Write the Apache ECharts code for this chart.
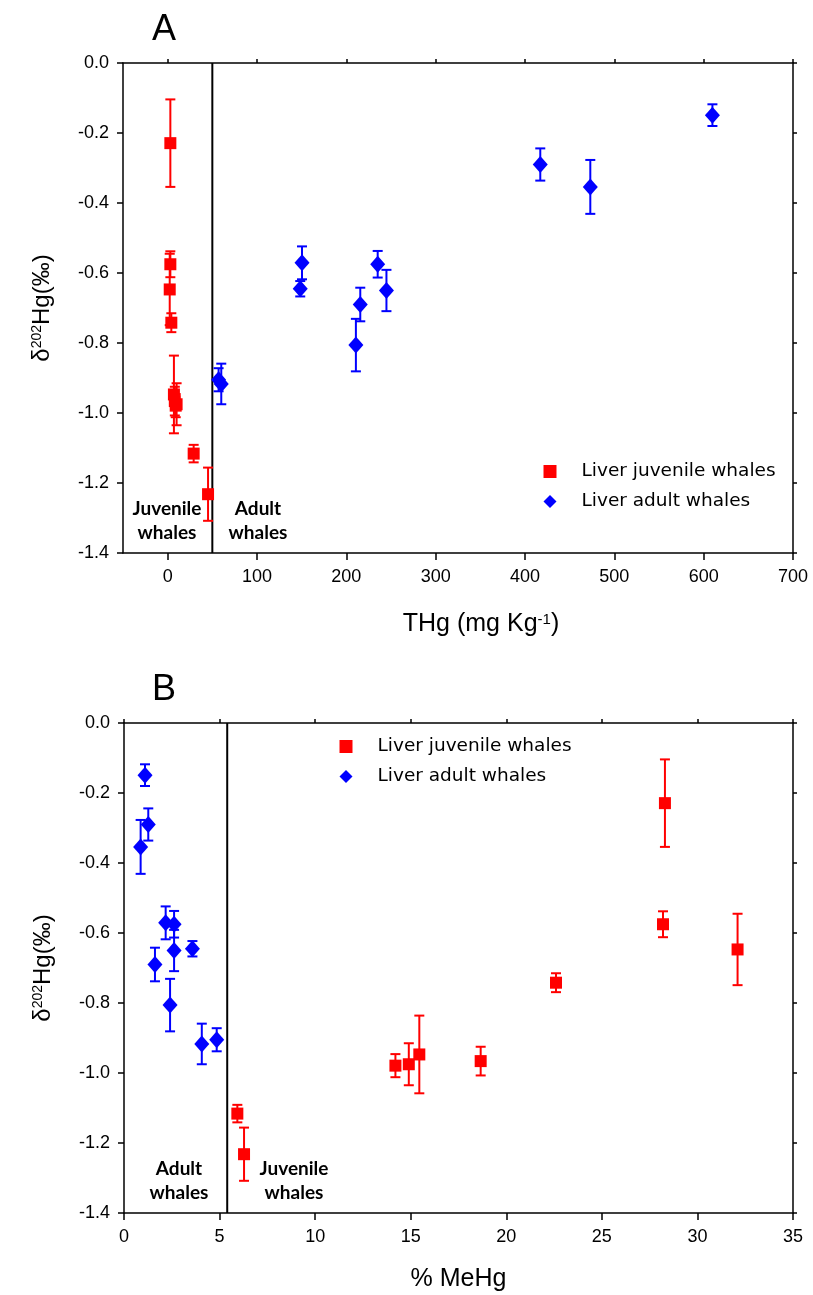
<!DOCTYPE html>
<html>
<head>
<meta charset="utf-8">
<script src="https://cdn.jsdelivr.net/npm/echarts@6/dist/echarts.min.js"></script>
<style>
  html, body { margin: 0; padding: 0; background: #fff; }
  #chart { width: 813px; height: 1295px; }
</style>
</head>
<body>
<div id="chart"></div>
<script>
// Series names
const juvenileName = 'Liver juvenile whales';
const adultName = 'Liver adult whales';

// Juvenile whales: THg (mg/kg), % MeHg, δ202Hg (‰) and its error
const juvTHg  = [3.0, 3.0, 2.3, 4.1, 9, 10, 7, 8, 29.1, 45.2];
const juvMeHg = [28.3, 28.2, 32.1, 22.6, 14.2, 14.9, 15.45, 18.66, 5.93, 6.28];
const juvD202 = [-0.229, -0.575, -0.647, -0.742, -0.979, -0.975, -0.947, -0.966, -1.116, -1.232];
const juvErr  = [0.125, 0.037, 0.102, 0.027, 0.033, 0.060, 0.111, 0.041, 0.025, 0.076];

// Adult whales
const adTHg  = [609.8, 417.1, 473.1, 150.4, 235.1, 244.9, 148.4, 215.6, 210.7, 60, 57];
const adMeHg = [1.10, 1.27, 0.87, 2.18, 2.62, 2.62, 3.58, 1.62, 2.41, 4.07, 4.85];
const adD202 = [-0.149, -0.290, -0.354, -0.571, -0.575, -0.650, -0.645, -0.690, -0.806, -0.917, -0.905];
const adErr  = [0.031, 0.046, 0.077, 0.047, 0.038, 0.059, 0.022, 0.048, 0.075, 0.058, 0.033];

// Tick values
const thgTicks  = [0, 100, 200, 300, 400, 500, 600, 700];
const meHgTicks = [0, 5, 10, 15, 20, 25, 30, 35];
const d202Ticks = [-1.4, -1.2, -1.0, -0.8, -0.6, -0.4, -0.2, 0.0];

// Age-class boundaries
const thgDivider  = 50;
const meHgDivider = 5.4;

const FONT = "'Liberation Sans', Arial, sans-serif";
const RED = '#ff0000';
const BLUE = '#0000ff';
const AXIS_LINE = { color: '#000', width: 1.5 };

const zip = (xs, ys, es) => xs.map((x, i) => es ? [x, ys[i], es[i]] : [x, ys[i]]);

const nameRich = {
  n: { fontSize: 25, fontFamily: FONT, color: '#000' },
  s: { fontSize: 15, fontFamily: FONT, color: '#000', verticalAlign: 'top' }
};

function bottomX(gridIndex, min, max, ticks, name, nameGap, shift) {
  return {
    type: 'value', gridIndex, position: 'bottom', min, max,
    axisLine: { onZero: false, lineStyle: AXIS_LINE },
    axisTick: { inside: false, length: 7, customValues: ticks, lineStyle: AXIS_LINE },
    axisLabel: { customValues: ticks, margin: 15, fontSize: 18, color: '#000', fontFamily: FONT },
    splitLine: { show: false },
    name, nameLocation: 'middle', nameGap,
    nameTextStyle: { color: '#000', fontSize: 25, fontFamily: FONT, rich: nameRich, padding: [0, 0, 0, shift] }
  };
}
function topX(gridIndex, min, max, ticks) {
  return {
    type: 'value', gridIndex, position: 'top', min, max,
    axisLine: { onZero: false, lineStyle: AXIS_LINE },
    axisTick: { inside: false, length: 4, customValues: ticks, lineStyle: AXIS_LINE },
    axisLabel: { show: false }, splitLine: { show: false }
  };
}
const yNameRich = {
  n: { fontSize: 24, fontFamily: FONT, color: '#000' },
  s: { fontSize: 14, fontFamily: FONT, color: '#000', verticalAlign: 'top' }
};
function leftY(gridIndex) {
  return {
    type: 'value', gridIndex, position: 'left', min: -1.4, max: 0,
    axisLine: { onZero: false, lineStyle: AXIS_LINE },
    axisTick: { inside: false, length: 6, customValues: d202Ticks, lineStyle: AXIS_LINE },
    axisLabel: {
      customValues: d202Ticks, margin: 14, fontSize: 18, color: '#000', fontFamily: FONT,
      formatter: v => v.toFixed(1)
    },
    splitLine: { show: false },
    name: '{n|δ}{s|202}{n|Hg(‰)}', nameLocation: 'middle', nameRotate: 90, nameGap: 69,
    nameTextStyle: { rich: yNameRich }
  };
}
function rightY(gridIndex) {
  return {
    type: 'value', gridIndex, position: 'right', min: -1.4, max: 0,
    axisLine: { onZero: false, lineStyle: AXIS_LINE },
    axisTick: { inside: false, length: 4, customValues: d202Ticks, lineStyle: AXIS_LINE },
    axisLabel: { show: false }, splitLine: { show: false }
  };
}

// Vertical error bars with caps
function errorBars(xAxisIndex, yAxisIndex, data, color) {
  return {
    type: 'custom', xAxisIndex, yAxisIndex, data, z: 2, silent: true,
    encode: { x: 0, y: 1 },
    renderItem(params, api) {
      const x = api.value(0), y = api.value(1), e = api.value(2);
      const p1 = api.coord([x, y + e]);
      const p2 = api.coord([x, y - e]);
      const w = 5;
      const style = { stroke: color, lineWidth: 2 };
      return {
        type: 'group', children: [
          { type: 'line', shape: { x1: p1[0], y1: p1[1], x2: p2[0], y2: p2[1] }, style },
          { type: 'line', shape: { x1: p1[0] - w, y1: p1[1], x2: p1[0] + w, y2: p1[1] }, style },
          { type: 'line', shape: { x1: p2[0] - w, y1: p2[1], x2: p2[0] + w, y2: p2[1] }, style }
        ]
      };
    }
  };
}
function points(name, xAxisIndex, yAxisIndex, data, isJuvenile) {
  return {
    type: 'scatter', name, xAxisIndex, yAxisIndex, data, z: 3,
    symbol: isJuvenile ? 'rect' : 'diamond',
    symbolSize: isJuvenile ? 12 : [15, 17],
    itemStyle: { color: isJuvenile ? RED : BLUE, opacity: 1 },
    emphasis: { disabled: true }
  };
}
function divider(xAxisIndex, yAxisIndex, x) {
  return {
    type: 'line', xAxisIndex, yAxisIndex, data: [[x, -1.4], [x, 0]],
    symbol: 'none', silent: true, z: 1,
    lineStyle: { color: '#000', width: 2 }
  };
}
function legendAt(left, top) {
  return {
    orient: 'vertical', left, top, padding: 0, selectedMode: false,
    itemWidth: 13, itemHeight: 13, itemGap: 11,
    data: [{ name: juvenileName, icon: 'rect' }, { name: adultName, icon: 'diamond' }],
    textStyle: {
      fontSize: 18.5, fontFamily: "'DejaVu Sans', sans-serif", color: '#000',
      padding: [0, 0, 0, 20]
    }
  };
}
function label(text, x, y, opts) {
  return {
    type: 'text', x, y, silent: true,
    style: Object.assign({
      text, fill: '#000', align: 'center', verticalAlign: 'middle',
      fontFamily: "Lato, 'Open Sans', sans-serif", fontSize: 19, fontWeight: 'bold', lineHeight: 24
    }, opts || {})
  };
}

const chart = echarts.init(document.getElementById('chart'), null, { renderer: 'canvas' });
chart.setOption({
  animation: false,
  backgroundColor: '#fff',
  grid: [
    { left: 123, top: 63, width: 670, height: 490 },
    { left: 124, top: 723, width: 669, height: 490 }
  ],
  xAxis: [
    bottomX(0, -50, 700, thgTicks, '{n|THg (mg Kg}{s|-1}{n|)}', 59, 46),
    topX(0, -50, 700, thgTicks),
    bottomX(1, 0, 35, meHgTicks, '{n|% MeHg}', 54, 0),
    topX(1, 0, 35, meHgTicks)
  ],
  yAxis: [leftY(0), rightY(0), leftY(1), rightY(1)],
  legend: [legendAt(543.5, 462), legendAt(339.5, 737)],
  series: [
    divider(0, 0, thgDivider),
    divider(2, 2, meHgDivider),
    errorBars(0, 0, zip(juvTHg, juvD202, juvErr), RED),
    errorBars(0, 0, zip(adTHg, adD202, adErr), BLUE),
    points(juvenileName, 0, 0, zip(juvTHg, juvD202), true),
    points(adultName, 0, 0, zip(adTHg, adD202), false),
    errorBars(2, 2, zip(adMeHg, adD202, adErr), BLUE),
    errorBars(2, 2, zip(juvMeHg, juvD202, juvErr), RED),
    points(juvenileName, 2, 2, zip(juvMeHg, juvD202), true),
    points(adultName, 2, 2, zip(adMeHg, adD202), false)
  ],
  graphic: [
    label('A', 164, 30, { fontFamily: FONT, fontSize: 36, fontWeight: 'normal', lineHeight: 40 }),
    label('B', 164, 690, { fontFamily: FONT, fontSize: 36, fontWeight: 'normal', lineHeight: 40 }),
    label('Juvenile\nwhales', 167, 521),
    label('Adult\nwhales', 258, 521),
    label('Adult\nwhales', 179, 1181),
    label('Juvenile\nwhales', 294, 1181)
  ]
});
</script>
</body>
</html>
